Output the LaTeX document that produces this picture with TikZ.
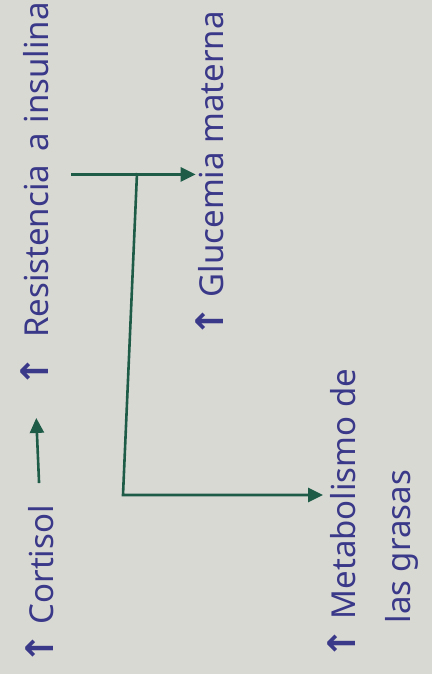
\documentclass[tikz,border=0pt]{standalone}
\usepackage{fontspec}
\setmainfont{Noto Sans}
\newfontfamily\arrfont{DejaVu Sans}
\usetikzlibrary{arrows.meta}
\definecolor{paper}{HTML}{D9D9D4}
\definecolor{ink}{HTML}{3A3888}
\definecolor{pen}{HTML}{1F5C48}
\newcommand{\upar}{{\arrfont\bfseries\fontsize{38}{38}\selectfont ↑}}
\tikzset{
  x=1pt, y=1pt,
  lbl/.style={rotate=90, inner sep=0pt, text=ink, font=\fontsize{33}{55}\selectfont},
  garrow/.style={draw=pen, line width=2.6pt, -{Triangle[length=15pt,width=14pt]}},
}
\begin{document}
\begin{tikzpicture}
\useasboundingbox (0,0) rectangle (432,674);
\fill[paper] (0,0) rectangle (432,674);
\node[lbl, anchor=west] (C) at (40,9) {\upar\ Cortisol};
\node[lbl, anchor=west] (R) at (35,286) {\upar\hspace{0.55em}Resistencia\hspace{0.4em}a\hspace{0.3em}insulina};
\node[lbl, anchor=west] (G) at (210,336) {\upar\ Glucemia materna};
\node[lbl, anchor=north west, align=left] (M) at (327,14) {\upar\ Metabolismo de\\\hspace*{1.1em}las grasas};
\coordinate (J) at (137,501);
\coordinate (K) at (123,179);
\draw[garrow, shorten <=22pt, shorten >=30pt] (C.east) -- (R.west);
\draw[garrow, shorten <=22pt] (R.south |- G.north) -- (G.north);
\draw[garrow, shorten >=4pt] (J) -- (K) -- (K -| M.north);
\end{tikzpicture}
\end{document}
